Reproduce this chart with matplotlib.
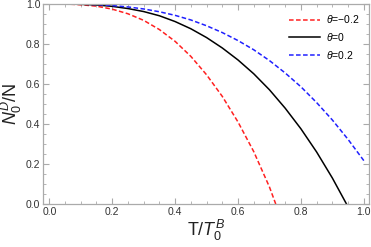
import matplotlib
matplotlib.use("Agg")
import matplotlib.pyplot as plt
from matplotlib.ticker import MultipleLocator

# valores: fracción condensada N0^D/N vs T/T0^B
t_neg = [0.0, 0.05, 0.1, 0.15, 0.2, 0.25, 0.3, 0.35, 0.4, 0.45, 0.5,
         0.55, 0.6, 0.65, 0.7, 0.72]
n_neg = [1.0, 1.0, 0.996, 0.989, 0.974, 0.951, 0.918, 0.872, 0.813, 0.738,
         0.646, 0.538, 0.41, 0.262, 0.085, 0.0]

t_zero = [0.0, 0.05, 0.1, 0.15, 0.2, 0.25, 0.3, 0.35, 0.4, 0.45, 0.5,
          0.55, 0.6, 0.65, 0.7, 0.75, 0.8, 0.85, 0.9, 0.945]
n_zero = [1.0, 1.0, 0.998, 0.995, 0.988, 0.977, 0.962, 0.941, 0.912, 0.876,
          0.832, 0.78, 0.72, 0.651, 0.571, 0.479, 0.376, 0.26, 0.130, 0.0]

t_pos = [0.0, 0.05, 0.1, 0.15, 0.2, 0.25, 0.3, 0.35, 0.4, 0.45, 0.5,
         0.55, 0.6, 0.65, 0.7, 0.75, 0.8, 0.85, 0.9, 0.95, 1.0]
n_pos = [1.0, 1.0, 0.999, 0.997, 0.992, 0.985, 0.975, 0.961, 0.943, 0.920,
         0.891, 0.857, 0.817, 0.771, 0.717, 0.655, 0.586, 0.507, 0.420,
         0.323, 0.217]

ticks = [0.0, 0.2, 0.4, 0.6, 0.8, 1.0]
tick_labels = ["0.0", "0.2", "0.4", "0.6", "0.8", "1.0"]
labels = [r"$\theta$=−0.2", r"$\theta$=0", r"$\theta$=0.2"]

plt.rcParams["font.family"] = ["Liberation Sans", "DejaVu Sans"]
plt.rcParams["mathtext.fontset"] = "custom"
plt.rcParams["mathtext.it"] = "Liberation Sans:italic"
plt.rcParams["mathtext.rm"] = "Liberation Sans"

fig = plt.figure(figsize=(3.71, 2.47), dpi=100)
ax = fig.add_axes([0.116, 0.174, 0.879, 0.81])

ax.plot(t_neg, n_neg, color="#ff2020", lw=1.1, dashes=(3, 1.6), label=labels[0])
ax.plot(t_zero, n_zero, color="black", lw=1.1, label=labels[1])
ax.plot(t_pos, n_pos, color="#2020ff", lw=1.1, dashes=(3, 1.6), label=labels[2])

ax.set_xlim(-0.02, 1.017)
ax.set_ylim(0, 1.0)
ax.set_xticks(ticks, tick_labels)
ax.set_yticks(ticks, tick_labels)
ax.xaxis.set_minor_locator(MultipleLocator(0.05))
ax.yaxis.set_minor_locator(MultipleLocator(0.05))

grey = "#aaaaaa"
for s in ax.spines.values():
    s.set_color(grey)
    s.set_linewidth(0.9)
ax.tick_params(which="both", direction="in", top=True, right=True,
               color=grey, labelcolor="#333333", labelsize=7.5, pad=2)
ax.tick_params(which="major", length=4, width=0.8)
ax.tick_params(which="minor", length=2, width=0.6)

ax.set_xlabel(r"T/$T_0^B$", fontsize=13, color="#222222", labelpad=1)
ax.set_ylabel(r"$N_0^D$/N", fontsize=13, color="#222222", labelpad=1)

ax.legend(loc="upper right", frameon=False, fontsize=7.5, handlelength=3.0,
          handletextpad=0.6, labelspacing=0.55, borderaxespad=0.5)

fig.savefig("out.png", dpi=100)
